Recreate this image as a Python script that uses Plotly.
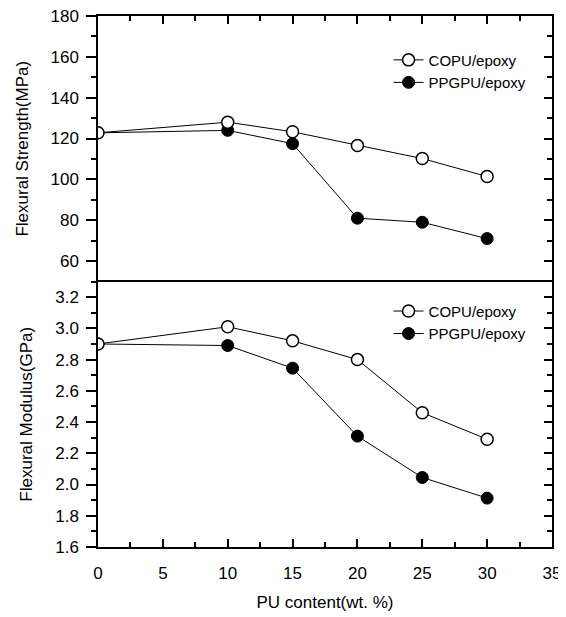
import plotly.graph_objects as go

# ---- data ----
pu_content = [0, 10, 15, 20, 25, 30]
strength_copu = [122.8, 128.0, 123.3, 116.6, 110.2, 101.4]
strength_ppgpu = [122.8, 124.0, 117.5, 81.0, 79.0, 71.0]
modulus_copu = [2.90, 3.01, 2.92, 2.80, 2.46, 2.29]
modulus_ppgpu = [2.90, 2.89, 2.745, 2.31, 2.045, 1.913]

x_ticks = [0, 5, 10, 15, 20, 25, 30, 35]
strength_ticks = [60, 80, 100, 120, 140, 160, 180]
modulus_ticks = [1.6, 1.8, 2.0, 2.2, 2.4, 2.6, 2.8, 3.0, 3.2]
modulus_ticktext = ["1.6", "1.8", "2.0", "2.2", "2.4", "2.6", "2.8", "3.0", "3.2"]

series_names = ["COPU/epoxy", "PPGPU/epoxy"]

FONT = "Liberation Sans, Arial, sans-serif"
BLACK = "black"

open_marker = dict(symbol="circle", size=12, color="white", line=dict(color=BLACK, width=1.5))
filled_marker = dict(symbol="circle", size=12, color=BLACK, line=dict(color=BLACK, width=1))
line_style = dict(color=BLACK, width=1)

fig = go.Figure()

# top panel (strength)
fig.add_trace(go.Scatter(x=pu_content, y=strength_ppgpu, name=series_names[1], mode="lines+markers",
                         marker=filled_marker, line=line_style, xaxis="x2", yaxis="y2",
                         legend="legend", legendrank=2))
fig.add_trace(go.Scatter(x=pu_content, y=strength_copu, name=series_names[0], mode="lines+markers",
                         marker=open_marker, line=line_style, xaxis="x2", yaxis="y2",
                         legend="legend", legendrank=1))
# bottom panel (modulus)
fig.add_trace(go.Scatter(x=pu_content, y=modulus_ppgpu, name=series_names[1], mode="lines+markers",
                         marker=filled_marker, line=line_style, xaxis="x", yaxis="y",
                         legend="legend2", legendrank=2))
fig.add_trace(go.Scatter(x=pu_content, y=modulus_copu, name=series_names[0], mode="lines+markers",
                         marker=open_marker, line=line_style, xaxis="x", yaxis="y",
                         legend="legend2", legendrank=1))
# empty traces to activate right-hand tick axes
fig.add_trace(go.Scatter(x=[], y=[], xaxis="x", yaxis="y3", showlegend=False, hoverinfo="skip"))
fig.add_trace(go.Scatter(x=[], y=[], xaxis="x2", yaxis="y4", showlegend=False, hoverinfo="skip"))

axis_line = dict(showline=True, linecolor=BLACK, linewidth=1.5, showgrid=False, zeroline=False,
                 tickcolor=BLACK, tickwidth=1.5, automargin=False)
tickfont = dict(family=FONT, size=17, color=BLACK)
titlefont = dict(family=FONT, size=17, color=BLACK)

# the page body has an 8px margin, so the figure is sized to fit inside 566x617
fig.update_layout(
    width=558, height=609,
    margin=dict(l=90, r=14, t=8, b=70),
    paper_bgcolor="white", plot_bgcolor="white",
    font=dict(family=FONT, color=BLACK),
    xaxis=dict(domain=[0, 1], anchor="y", range=[0, 35], tickvals=x_ticks,
               ticks="inside", ticklen=8, mirror=True, tickfont=tickfont, ticklabelstandoff=10,
               ticklabeloverflow="allow",
               minor=dict(ticks="inside", ticklen=5, tick0=0, dtick=2.5, tickcolor=BLACK, tickwidth=1.5),
               title=dict(text="PU content(wt. %)", font=titlefont, standoff=14),
               **axis_line),
    xaxis2=dict(domain=[0, 1], anchor="y2", range=[0, 35], tickvals=x_ticks, side="top",
                ticks="inside", ticklen=8, mirror=False, showticklabels=False,
                minor=dict(ticks="inside", ticklen=5, tick0=0, dtick=2.5, tickcolor=BLACK, tickwidth=1.5),
                **axis_line),
    yaxis=dict(domain=[0, 0.5], anchor="x", range=[1.6, 3.3], tickvals=modulus_ticks,
               ticktext=modulus_ticktext, ticks="outside", ticklen=10, mirror=True, tickfont=tickfont,
               ticklabelstandoff=4, ticklabeloverflow="allow",
               minor=dict(ticks="outside", ticklen=5, tick0=1.6, dtick=0.1, tickcolor=BLACK, tickwidth=1.5),
               title=dict(text="Flexural Modulus(GPa)", font=titlefont, standoff=18),
               **axis_line),
    yaxis2=dict(domain=[0.5, 1], anchor="x2", range=[50, 180], tickvals=strength_ticks,
                ticks="outside", ticklen=10, mirror=True, tickfont=tickfont, ticklabelstandoff=4,
                ticklabeloverflow="allow",
                minor=dict(ticks="outside", ticklen=5, tick0=50, dtick=10, tickcolor=BLACK, tickwidth=1.5),
                title=dict(text="Flexural Strength(MPa)", font=titlefont, standoff=18),
                **axis_line),
    yaxis3=dict(overlaying="y", anchor="x", side="right", range=[1.6, 3.3], tickvals=modulus_ticks,
                ticks="inside", ticklen=8, showticklabels=False,
                minor=dict(ticks="inside", ticklen=5, tick0=1.6, dtick=0.1, tickcolor=BLACK, tickwidth=1.5),
                **axis_line),
    yaxis4=dict(overlaying="y2", anchor="x2", side="right", range=[50, 180], tickvals=strength_ticks,
                ticks="inside", ticklen=8, showticklabels=False,
                minor=dict(ticks="inside", ticklen=5, tick0=50, dtick=10, tickcolor=BLACK, tickwidth=1.5),
                **axis_line),
    legend=dict(x=0.64, y=0.948, xanchor="left", yanchor="top", bgcolor="rgba(0,0,0,0)",
                font=dict(family=FONT, size=15, color=BLACK), tracegroupgap=0),
    legend2=dict(x=0.64, y=0.475, xanchor="left", yanchor="top", bgcolor="rgba(0,0,0,0)",
                 font=dict(family=FONT, size=15, color=BLACK), tracegroupgap=0),
    showlegend=True,
)

fig.write_html("out.html")
